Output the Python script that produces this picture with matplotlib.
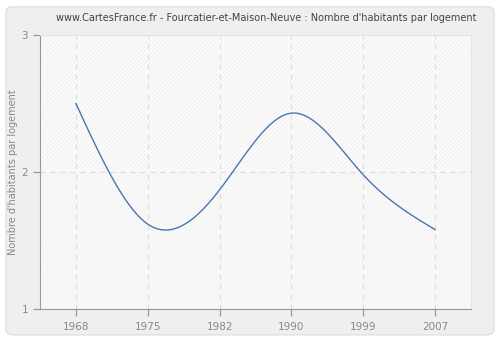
import numpy as np
import matplotlib
matplotlib.use('Agg')
import matplotlib.pyplot as plt
from matplotlib.patches import FancyBboxPatch

years = ['1968', '1975', '1982', '1990', '1999', '2007']
habitants = [2.50, 1.62, 1.87, 2.43, 1.98, 1.58]
y_ticks = [1, 2, 3]

title = "www.CartesFrance.fr - Fourcatier-et-Maison-Neuve : Nombre d'habitants par logement"
y_label = "Nombre d'habitants par logement"


def natural_spline(x, y, n=400):
    # natural cubic spline through the points, for a smooth curve
    x = np.asarray(x, float)
    y = np.asarray(y, float)
    k = len(x)
    h = np.diff(x)
    a = np.zeros((k, k))
    b = np.zeros(k)
    a[0, 0] = a[-1, -1] = 1
    for i in range(1, k - 1):
        a[i, i - 1] = h[i - 1]
        a[i, i] = 2 * (h[i - 1] + h[i])
        a[i, i + 1] = h[i]
        b[i] = 3 * ((y[i + 1] - y[i]) / h[i] - (y[i] - y[i - 1]) / h[i - 1])
    c = np.linalg.solve(a, b)
    xs = np.linspace(x[0], x[-1], n)
    ys = np.empty_like(xs)
    for j, t in enumerate(xs):
        i = min(np.searchsorted(x, t, side='right') - 1, k - 2)
        dx = t - x[i]
        bi = (y[i + 1] - y[i]) / h[i] - h[i] * (2 * c[i] + c[i + 1]) / 3
        di = (c[i + 1] - c[i]) / (3 * h[i])
        ys[j] = y[i] + bi * dx + c[i] * dx ** 2 + di * dx ** 3
    return xs, ys


plt.rcParams['hatch.linewidth'] = 0.5

fig = plt.figure(figsize=(5, 3.4), dpi=100)
fig.patch.set_facecolor('white')
fig.patches.append(FancyBboxPatch(
    (0.012, 0.015), 0.976, 0.965, boxstyle='round,pad=0,rounding_size=0.015',
    transform=fig.transFigure, facecolor='#efefef', edgecolor='#e2e2e2',
    linewidth=1, zorder=-5))

ax = fig.add_axes([0.080, 0.091, 0.862, 0.806])
ax.set_facecolor('#f8f8f8')
# striped bands: stronger above 2, faint below
ax.axhspan(2, 3, facecolor='#fcfcfc', edgecolor='#ebebeb', hatch='/' * 8, linewidth=0, zorder=0)
ax.axhspan(1, 2, facecolor='#f9f9f9', edgecolor='#f2f2f2', hatch='/' * 8, linewidth=0, zorder=0)

# years are evenly spaced categories
pos = np.arange(len(years))
ax.set_xlim(-0.5, len(years) - 0.5)
ax.set_ylim(1, 3)
ax.set_xticks(pos)
ax.set_xticklabels(years)
ax.set_yticks(y_ticks)

ax.grid(True, color='#dedede', linestyle=(0, (4, 4)), linewidth=0.9, zorder=1)
ax.set_axisbelow(True)

xs, ys = natural_spline(pos, habitants)
ax.plot(xs, ys, color='#4a76ad', linewidth=1.0, zorder=3)

for side in ('left', 'bottom'):
    ax.spines[side].set_color('#999999')
for side in ('top', 'right'):
    ax.spines[side].set_color('#e4e4e4')
ax.tick_params(colors='#999999', labelcolor='#888888', labelsize=7.5, length=5, width=0.9)
ax.tick_params(axis='x', pad=4)

ax.set_ylabel(y_label, color='#888888', fontsize=7)
ax.yaxis.set_label_coords(-0.05, 0.5)
fig.text(0.533, 0.948, title, ha='center', va='center', color='#444444', fontsize=7)

fig.savefig('out.png', dpi=100, facecolor=fig.get_facecolor())
